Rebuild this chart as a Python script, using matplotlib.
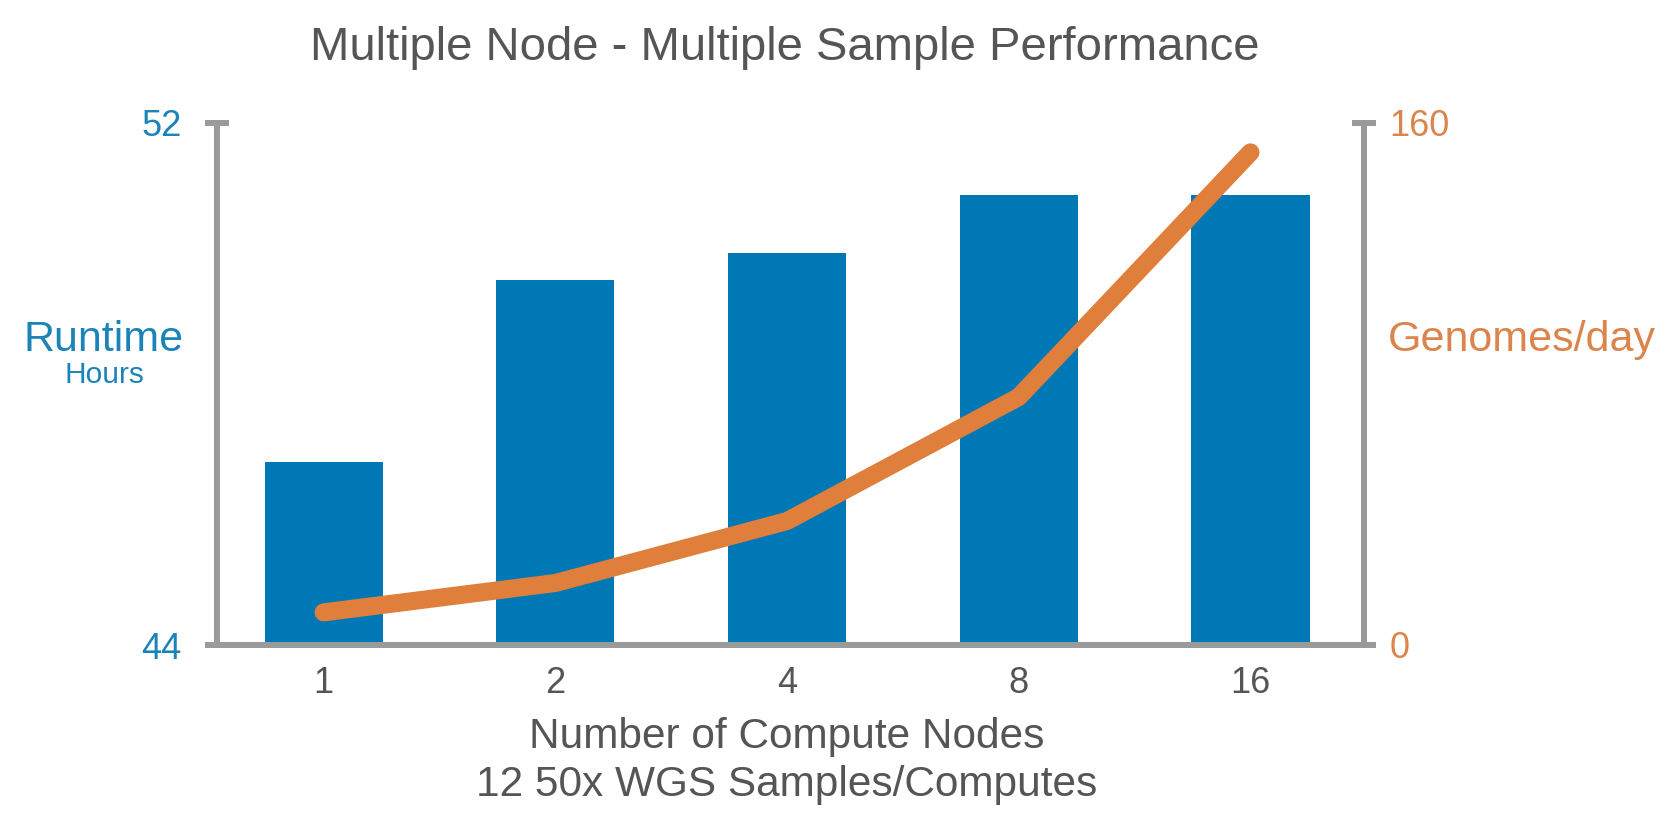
import matplotlib
matplotlib.use("Agg")
import matplotlib.pyplot as plt

# data
nodes = ["1", "2", "4", "8", "16"]
runtime_hours = [46.8, 49.6, 50.0, 50.9, 50.9]
genomes_per_day = [10, 19, 38, 76, 151]

blue_bar = "#0078B6"
blue_text = "#1A84B8"
orange_line = "#E07E3C"
orange_text = "#DB844B"
axis_grey = "#9A9A9A"
text_grey = "#555555"

plt.rcParams["font.family"] = ["Liberation Sans", "DejaVu Sans"]

W, H = 1675, 830
fig = plt.figure(figsize=(W / 100, H / 100), dpi=100)

# axes box in pixel terms from the reference
left, right, top, bottom = 217, 1364, 123, 645
ax = fig.add_axes([left / W, 1 - bottom / H, (right - left) / W, (bottom - top) / H])
ax2 = ax.twinx()

x = list(range(len(nodes)))
ax.bar(x, [v - 44 for v in runtime_hours], bottom=44, width=0.51, color=blue_bar, zorder=1)
ax2.plot(x, genomes_per_day, color=orange_line, linewidth=13,
         solid_capstyle="round", solid_joinstyle="round")

ax.set_xlim(-0.46, 4.49)
ax.set_ylim(44, 52)
ax2.set_ylim(0, 160)

ax.set_yticks([44, 52])
ax2.set_yticks([0, 160])
ax.set_xticks(x)
ax.set_xticklabels(nodes)

for a in (ax, ax2):
    for s in a.spines.values():
        s.set_visible(False)

ax.spines["left"].set_visible(True)
ax.spines["bottom"].set_visible(True)
ax2.spines["right"].set_visible(True)
for s in (ax.spines["left"], ax.spines["bottom"], ax2.spines["right"]):
    s.set_color(axis_grey)
    s.set_linewidth(4.3)

ax.tick_params(axis="y", direction="inout", length=17, width=4.3, color=axis_grey,
               labelsize=26, labelcolor=blue_text, pad=17)
ax2.tick_params(axis="y", direction="inout", length=17, width=4.3, color=axis_grey,
                labelsize=26, labelcolor=orange_text, pad=10)
ax.tick_params(axis="x", length=0, labelsize=26, labelcolor=text_grey, pad=15)

fig.text(785 / W, 1 - 48 / H, "Multiple Node - Multiple Sample Performance",
         ha="center", va="center", fontsize=34, color=text_grey)

fig.text(104 / W, 1 - 340 / H, "Runtime", ha="center", va="center",
         fontsize=31, color=blue_text)
fig.text(104 / W, 1 - 375 / H, "Hours", ha="center", va="center",
         fontsize=21.5, color=blue_text)
fig.text(1522 / W, 1 - 340 / H, "Genomes/day", ha="center", va="center",
         fontsize=31, color=orange_text)

fig.text(787 / W, 1 - 737 / H, "Number of Compute Nodes", ha="center", va="center",
         fontsize=30.5, color=text_grey)
fig.text(787 / W, 1 - 785 / H, "12 50x WGS Samples/Computes", ha="center", va="center",
         fontsize=30.5, color=text_grey)

fig.savefig("out.png", dpi=100)
